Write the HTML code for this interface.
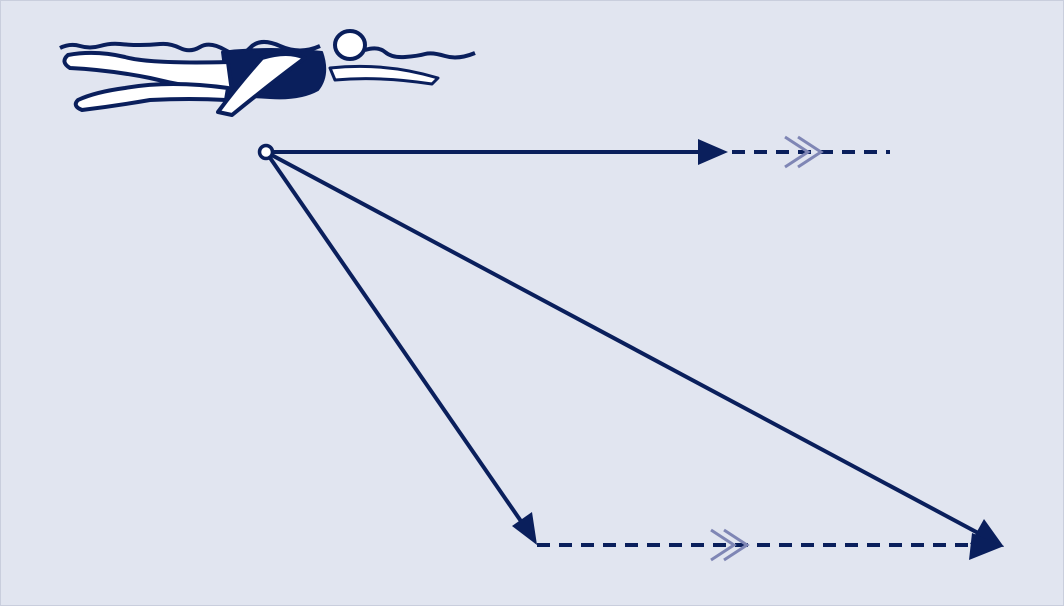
<!DOCTYPE html>
<html><head><style>
html,body{margin:0;padding:0;background:#e1e5f0;}
svg{display:block;}
</style></head><body>
<svg width="1064" height="606" viewBox="0 0 1064 606" xmlns="http://www.w3.org/2000/svg">
<rect width="1064" height="606" fill="#e1e5f0"/>
<rect x="0.5" y="0.5" width="1063" height="605" fill="none" stroke="#c9cedd"/>
<g fill="#0a1f5c" stroke="#0a1f5c" stroke-linejoin="round">
<path d="M60 48 Q70 43 80 46 T100 46 T120 44 T140 45 T160 44 T180 48 T200 47 T225 50 T250 48 T280 46 T320 46" fill="none" stroke-width="4"/>
<path d="M365 50 Q378 46 385 52 T405 57 T425 54 T445 56 T475 53" fill="none" stroke-width="4"/>
<path d="M222 52 Q270 46 322 52 Q330 75 318 90 Q300 100 270 98 Q245 96 228 98 Z" stroke-width="2"/>
<path d="M68 55 Q95 50 125 57 Q150 64 228 62 L232 92 Q190 88 150 78 Q110 70 70 68 Q60 62 68 55 Z" fill="#fff" stroke-width="4"/>
<path d="M78 100 Q95 92 125 88 Q170 80 228 88 L226 100 Q190 98 150 100 Q115 106 82 110 Q72 106 78 100 Z" fill="#fff" stroke-width="4"/>
<path d="M262 58 Q288 50 305 58 Q275 80 232 115 L218 112 Q238 85 262 58 Z" fill="#fff" stroke-width="4"/>
<ellipse cx="350" cy="45" rx="15" ry="14" fill="#fff" stroke-width="4"/>
<path d="M330 68 Q385 62 438 78 L432 84 Q380 76 335 80 Z" fill="#fff" stroke-width="3"/>
</g>
<g stroke="#0a1f5c" stroke-width="4" fill="none">
<line x1="266" y1="152" x2="705" y2="152"/>
<line x1="732" y1="152" x2="890" y2="152" stroke-dasharray="13 9"/>
<line x1="266" y1="152" x2="525" y2="527"/>
<line x1="266" y1="152" x2="980" y2="534"/>
<line x1="537" y1="545" x2="975" y2="545" stroke-dasharray="13 9"/>
</g>
<g fill="#0a1f5c">
<polygon points="728,152 698,139 698,165"/>
<polygon points="537,545 532,512 512,526"/>
<polygon points="1004,547 984,519 970,544"/>
<polygon points="1004,546 972,533 969,560"/>
</g>
<g stroke="#7f86b5" stroke-width="3" fill="none">
<polyline points="785,137 808,152 785,167"/>
<polyline points="798,137 821,152 798,167"/>
<polyline points="711,530 734,545 711,560"/>
<polyline points="724,530 747,545 724,560"/>
</g>
<circle cx="266" cy="152" r="6.5" fill="#fff" stroke="#0a1f5c" stroke-width="3.5"/>
</svg>
</body></html>
